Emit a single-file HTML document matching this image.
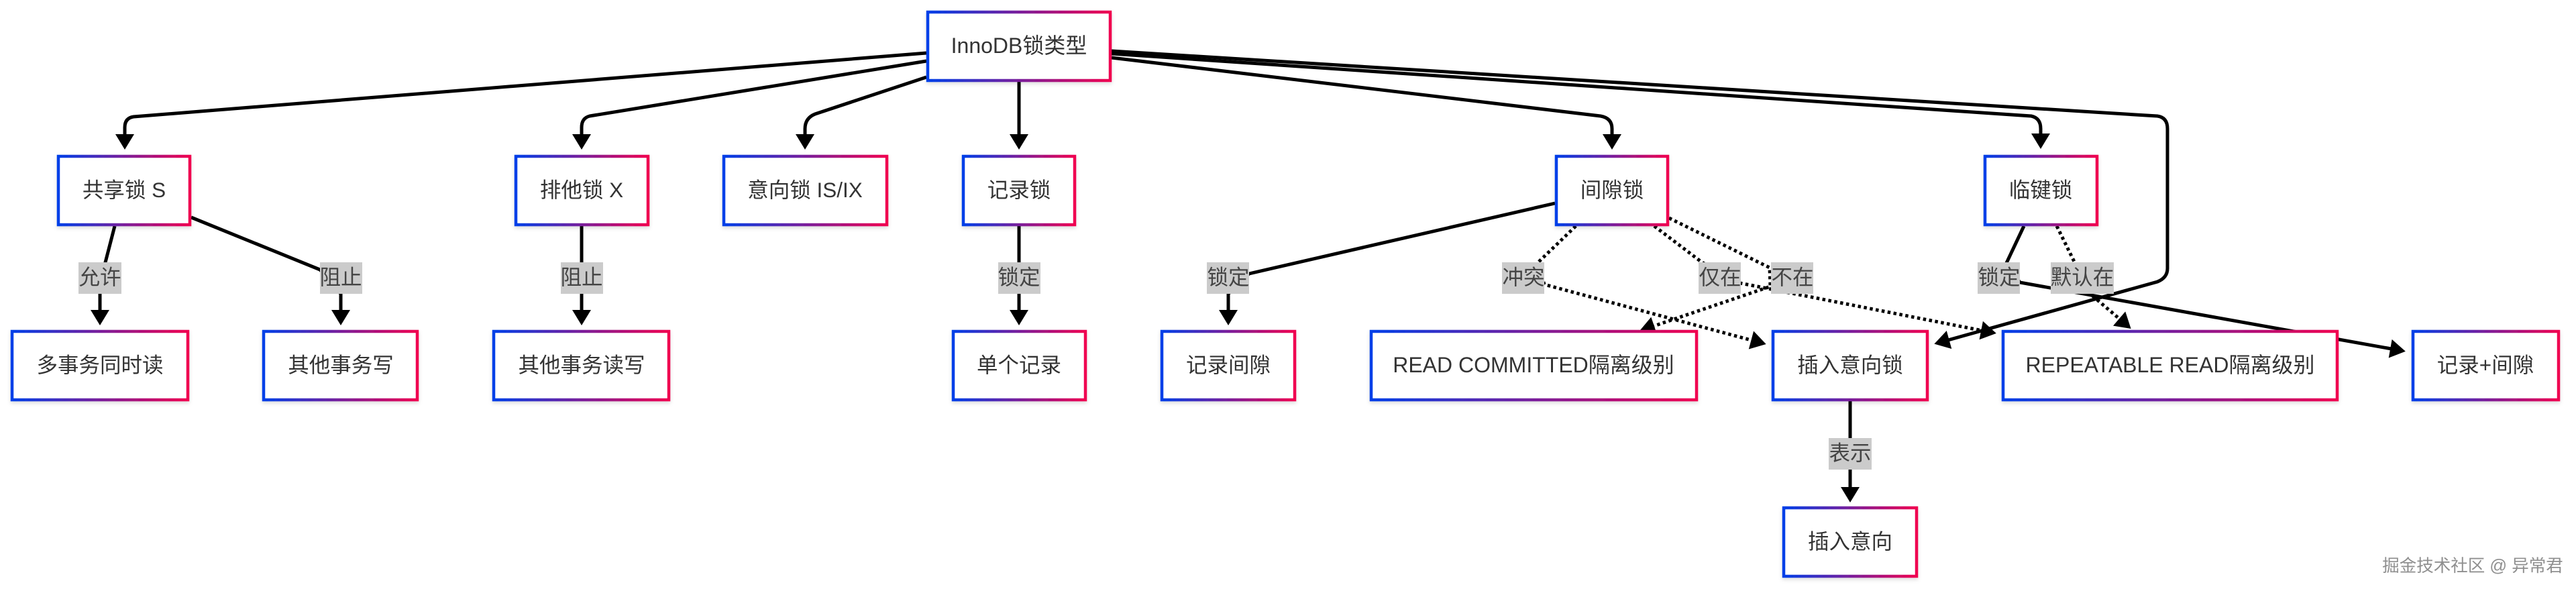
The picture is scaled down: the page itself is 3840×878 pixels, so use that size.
<!DOCTYPE html>
<html><head><meta charset="utf-8"><title>InnoDB锁类型</title>
<style>
html,body{margin:0;padding:0;background:#fff;width:3840px;height:878px;overflow:hidden}
svg{display:block}
text{font-family:"Liberation Sans","Noto Sans CJK SC",sans-serif;font-size:31.5px;text-anchor:middle;fill:#333}
.e{fill:none;stroke:#000;stroke-width:5}
.d{fill:none;stroke:#000;stroke-width:5;stroke-dasharray:4.5 4.5}
.a{marker-end:url(#m)}
.n{fill:#fff;stroke:url(#g);stroke-width:4.5;filter:url(#s)}
.l{fill:#cbcbcb}
.t{fill:#444}
</style></head><body>
<svg width="3840" height="878" viewBox="0 0 3840 878" xmlns="http://www.w3.org/2000/svg">
<defs>
<linearGradient id="g" x1="0" y1="0" x2="1" y2="0"><stop offset="0" stop-color="#003fe8"/><stop offset=".5" stop-color="#7a1f9c"/><stop offset="1" stop-color="#f00050"/></linearGradient>
<filter id="s" x="-10%" y="-10%" width="120%" height="125%"><feDropShadow dx="0" dy="3" stdDeviation="3" flood-color="#000" flood-opacity=".13"/></filter>
<marker id="m" markerUnits="userSpaceOnUse" markerWidth="30" markerHeight="32" refX="13" refY="15" orient="auto" overflow="visible"><path d="M0,1 L23,15 L0,29 z" fill="#000"/></marker>
</defs>

<!-- root edges -->
<path class="e a" d="M1381,79 L199,174 Q186,176 186,190 L186,213"/>
<path class="e a" d="M1381,91 L879,173 Q867,176 867,190 L867,213"/>
<path class="e a" d="M1381,115 L1215,170 Q1200,176 1200,192 L1200,213"/>
<path class="e a" d="M1519,122 L1519,213"/>
<path class="e a" d="M1657,86 L2386,173 Q2403,176 2403,192 L2403,213"/>
<path class="e a" d="M1657,80 L3028,173 Q3042,176 3042,192 L3042,212"/>
<path class="e a" d="M1657,76 L3216,173 Q3231,175 3231,192 L3231,400 Q3231,414 3216,420 L2893,510"/>

<!-- child edges -->
<path class="e a" d="M171,337 L156,395 L149,438 L149,475"/>
<path class="e a" d="M285,324 L477,402 L508,438 L508,475"/>
<path class="e a" d="M867,337 L867,475"/>
<path class="e a" d="M1519,337 L1519,475"/>
<path class="e a" d="M2318,303 L1862,408 L1831,438 L1831,475"/>
<path class="d a" d="M2349,337 L2293,391 L2302,424 L2623,510.4"/>
<path class="d a" d="M2466,337 L2537,391 L2594,422 L2966,495"/>
<path class="d a" d="M2488,325 L2638,399 L2639,427 L2453.5,490"/>
<path class="e a" d="M3017,337 L2991,392 L3011,421 L3576,522"/>
<path class="d a" d="M3066,337 L3093,392 L3117,439 L3169,483.5"/>
<path class="e a" d="M2758,598 L2758,739"/>

<!-- edge labels -->
<rect class="l" x="117" y="391" width="64" height="47"/><text class="t" x="149" y="424">允许</text>
<rect class="l" x="477" y="391" width="63" height="47"/><text class="t" x="508" y="424">阻止</text>
<rect class="l" x="836" y="391" width="63" height="47"/><text class="t" x="867" y="424">阻止</text>
<rect class="l" x="1488" y="391" width="63" height="47"/><text class="t" x="1519" y="424">锁定</text>
<rect class="l" x="1799" y="391" width="63" height="47"/><text class="t" x="1831" y="424">锁定</text>
<rect class="l" x="2239" y="391" width="63" height="47"/><text class="t" x="2271" y="424">冲突</text>
<rect class="l" x="2532" y="391" width="63" height="47"/><text class="t" x="2564" y="424">仅在</text>
<rect class="l" x="2640" y="391" width="63" height="47"/><text class="t" x="2672" y="424">不在</text>
<rect class="l" x="2948" y="391" width="63" height="47"/><text class="t" x="2980" y="424">锁定</text>
<rect class="l" x="3057" y="391" width="94" height="47"/><text class="t" x="3104" y="424">默认在</text>
<rect class="l" x="2726" y="653" width="64" height="47"/><text class="t" x="2758" y="686">表示</text>

<!-- nodes -->
<rect class="n" x="1383" y="18" width="272" height="102"/><text x="1519" y="79" style="font-size:32px">InnoDB锁类型</text>
<rect class="n" x="87" y="233" width="196" height="102"/><text x="185" y="294">共享锁 S</text>
<rect class="n" x="769" y="233" width="197" height="102"/><text x="867" y="294">排他锁 X</text>
<rect class="n" x="1079" y="233" width="243" height="102"/><text x="1200" y="294">意向锁 IS/IX</text>
<rect class="n" x="1436" y="233" width="166" height="102"/><text x="1519" y="294">记录锁</text>
<rect class="n" x="2320" y="233" width="166" height="102"/><text x="2403" y="294">间隙锁</text>
<rect class="n" x="2959" y="233" width="167" height="102"/><text x="3042" y="294">临键锁</text>
<rect class="n" x="18" y="494" width="262" height="102"/><text x="149" y="555">多事务同时读</text>
<rect class="n" x="393" y="494" width="229" height="102"/><text x="508" y="555">其他事务写</text>
<rect class="n" x="736" y="494" width="261" height="102"/><text x="867" y="555">其他事务读写</text>
<rect class="n" x="1421" y="494" width="197" height="102"/><text x="1519" y="555">单个记录</text>
<rect class="n" x="1732" y="494" width="198" height="102"/><text x="1831" y="555">记录间隙</text>
<rect class="n" x="2044" y="494" width="485" height="102"/><text x="2286" y="555" style="font-size:32px">READ COMMITTED隔离级别</text>
<rect class="n" x="2643" y="494" width="230" height="102"/><text x="2758" y="555">插入意向锁</text>
<rect class="n" x="2986" y="494" width="498" height="102"/><text x="3235" y="555" style="font-size:32px">REPEATABLE READ隔离级别</text>
<rect class="n" x="3597" y="494" width="217" height="102"/><text x="3705" y="555">记录+间隙</text>
<rect class="n" x="2659" y="757" width="198" height="102"/><text x="2758" y="818">插入意向</text>

<text x="3686" y="852" style="font-size:25.5px;fill:#8f8f8f">掘金技术社区 @ 异常君</text>
</svg>
</body></html>
